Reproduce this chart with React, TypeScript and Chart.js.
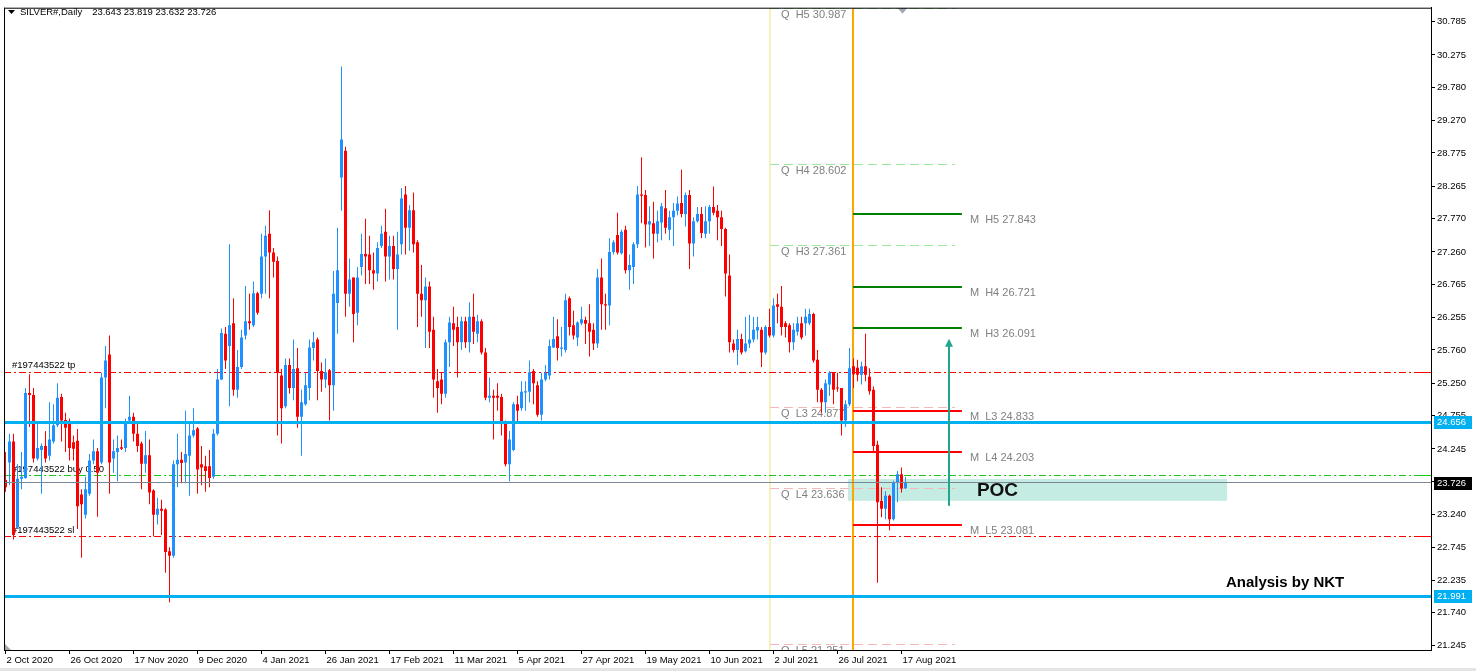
import React, { useEffect, useRef } from 'react';
import { Chart, registerables } from 'chart.js';

Chart.register(...registerables);
Chart.defaults.font.family = '"Liberation Sans", Arial, sans-serif';

// ---------------- data ----------------
const symbolTitle = 'SILVER#,Daily';
const lastBarOHLC = ['23.643', '23.819', '23.632', '23.726'];

const xTickBars = [0, 16, 32, 48, 64, 80, 96, 112, 128, 144, 160, 176, 192, 208, 224];
const xTickLabels = ['2 Oct 2020', '26 Oct 2020', '17 Nov 2020', '9 Dec 2020', '4 Jan 2021', '26 Jan 2021', '17 Feb 2021', '11 Mar 2021', '5 Apr 2021', '27 Apr 2021', '19 May 2021', '10 Jun 2021', '2 Jul 2021', '26 Jul 2021', '17 Aug 2021'];
const yTickLabels = ['30.785', '30.275', '29.780', '29.270', '28.775', '28.265', '27.770', '27.260', '26.765', '26.255', '25.760', '25.250', '24.755', '24.245', '23.750', '23.240', '22.745', '22.235', '21.740', '21.245'];

const opens = [
  23.77, 24.04, 24.36, 23.05, 23.79, 23.80, 25.10, 25.07, 24.10, 24.23,
  24.29, 24.14, 24.36, 24.61, 25.04, 24.69, 24.64, 24.35, 24.37, 23.55,
  23.24, 23.56, 24.07, 24.21, 24.04, 25.34, 25.69, 24.10, 24.20, 24.27,
  24.26, 24.68, 24.74, 24.48, 24.33, 24.02, 24.15, 23.61, 23.24, 23.33,
  23.32, 22.68, 22.61, 24.01, 24.08, 24.04, 24.14, 24.45, 24.56, 24.01,
  23.98, 23.98, 23.82, 24.48, 25.31, 26.01, 25.82, 26.17, 25.15, 25.50,
  25.98, 26.20, 26.14, 26.63, 26.62, 27.19, 27.54, 27.25, 27.12, 25.37,
  24.90, 25.53, 25.18, 25.48, 24.74, 24.93, 25.18, 25.79, 25.92, 25.44,
  25.31, 25.45, 25.22, 26.48, 28.40, 28.81, 26.62, 26.87, 26.33, 27.03,
  27.23, 27.22, 26.98, 26.93, 27.35, 27.57, 27.19, 27.35, 27.00, 27.38,
  28.14, 27.63, 27.90, 27.41, 26.62, 26.52, 26.73, 26.07, 25.28, 25.31,
  25.09, 25.88, 26.17, 26.11, 25.88, 26.20, 25.88, 26.27, 26.01, 26.20,
  25.72, 25.03, 25.06, 25.06, 25.04, 24.66, 24.01, 24.23, 24.93, 24.87,
  25.11, 25.12, 25.44, 25.22, 24.77, 25.31, 25.37, 25.80, 25.97, 25.78,
  25.76, 26.55, 26.14, 25.95, 26.17, 26.22, 26.17, 26.07, 25.86, 26.87,
  26.46, 26.44, 27.26, 27.52, 27.24, 27.60, 26.98, 27.03, 27.38, 28.14,
  28.13, 27.68, 27.70, 27.54, 27.71, 27.93, 27.60, 27.79, 27.89, 28.01,
  27.84, 28.13, 27.39, 27.73, 27.84, 27.54, 27.73, 27.95, 27.89, 27.79,
  27.61, 26.90, 25.86, 25.76, 25.93, 25.74, 25.86, 25.92, 26.06, 26.07,
  25.72, 26.11, 25.98, 26.46, 26.42, 26.17, 26.14, 25.88, 26.04, 26.17,
  26.17, 26.17, 26.31, 25.61, 25.15, 24.96, 25.23, 25.41, 25.18, 25.18,
  24.68, 24.93, 25.51, 25.49, 25.38, 25.51, 25.35, 25.15, 24.31, 23.45,
  23.33, 23.53, 23.17, 23.73, 23.86, 23.643,
];
const highs = [
  24.20, 24.48, 24.48, 24.01, 24.20, 25.18, 25.39, 25.18, 24.64, 24.33,
  24.52, 24.96, 24.93, 25.25, 25.09, 24.80, 24.71, 24.45, 24.55, 23.63,
  23.82, 24.17, 24.39, 24.26, 25.41, 25.82, 25.98, 24.39, 24.45, 24.39,
  24.71, 25.06, 24.80, 24.64, 24.36, 24.52, 24.39, 23.63, 23.50, 23.47,
  23.34, 22.74, 24.07, 24.48, 24.20, 24.83, 24.64, 24.87, 24.58, 24.29,
  24.14, 24.23, 24.55, 25.47, 26.09, 26.11, 27.38, 26.55, 25.76, 26.07,
  26.74, 26.62, 26.81, 26.65, 27.54, 27.66, 27.90, 27.32, 27.19, 25.47,
  25.63, 25.63, 25.92, 25.79, 25.15, 25.41, 25.92, 26.04, 25.95, 25.57,
  25.63, 25.47, 26.97, 27.63, 30.10, 28.87, 27.16, 26.87, 27.03, 27.54,
  27.77, 27.51, 27.25, 27.41, 27.66, 27.92, 27.51, 27.51, 27.57, 28.24,
  28.27, 27.98, 28.17, 27.44, 27.06, 26.87, 26.81, 26.27, 25.47, 25.41,
  25.92, 26.27, 26.42, 26.27, 26.27, 26.27, 26.49, 26.62, 26.30, 26.23,
  25.79, 25.34, 25.15, 25.25, 25.09, 24.68, 24.52, 24.96, 25.06, 25.28,
  25.28, 25.60, 25.47, 25.28, 25.41, 25.53, 25.92, 26.27, 26.23, 26.11,
  26.62, 26.58, 26.36, 26.20, 26.42, 26.27, 26.46, 26.17, 27.00, 27.16,
  26.62, 27.47, 27.44, 27.86, 27.60, 27.66, 27.22, 27.41, 28.27, 28.71,
  28.21, 27.96, 28.03, 27.89, 28.01, 28.21, 27.89, 28.01, 28.11, 28.52,
  28.17, 28.21, 27.79, 27.95, 27.95, 27.96, 27.98, 28.26, 27.98, 27.89,
  27.63, 27.22, 25.92, 26.07, 26.01, 26.27, 26.30, 26.27, 26.27, 26.11,
  26.14, 26.39, 26.55, 26.62, 26.74, 26.20, 26.17, 26.17, 26.27, 26.27,
  26.39, 26.39, 26.33, 25.76, 25.18, 25.31, 25.44, 25.42, 25.41, 25.18,
  24.99, 25.79, 25.63, 25.61, 25.58, 26.01, 25.48, 25.20, 24.37, 23.66,
  23.60, 23.55, 23.76, 23.91, 23.96, 23.819,
];
const lows = [
  23.59, 23.69, 22.86, 23.02, 23.63, 23.79, 24.58, 24.04, 24.07, 23.56,
  24.04, 24.07, 24.33, 24.58, 24.36, 24.20, 24.07, 24.07, 23.02, 22.58,
  23.18, 23.53, 24.01, 23.21, 24.01, 24.87, 23.56, 23.88, 23.75, 24.23,
  24.20, 24.64, 24.36, 24.20, 23.63, 23.88, 23.40, 22.91, 23.09, 22.93,
  22.35, 21.90, 22.58, 23.66, 23.72, 23.72, 23.53, 24.42, 23.56, 23.69,
  23.59, 23.66, 23.79, 24.45, 25.30, 25.47, 24.90, 25.06, 25.03, 25.47,
  25.92, 26.07, 26.11, 26.30, 26.55, 26.62, 26.55, 26.87, 24.45, 24.33,
  24.87, 25.09, 24.99, 24.57, 24.14, 24.91, 24.99, 25.60, 24.99, 25.12,
  25.18, 24.68, 24.83, 26.01, 27.89, 26.27, 26.42, 25.88, 26.14, 26.90,
  26.77, 26.77, 26.68, 26.81, 27.32, 26.81, 26.84, 26.84, 26.07, 27.22,
  27.22, 27.28, 27.25, 26.11, 26.27, 25.79, 25.79, 25.03, 24.80, 24.93,
  25.03, 25.50, 25.82, 25.34, 25.76, 25.79, 25.72, 25.85, 25.88, 25.69,
  24.99, 24.96, 24.39, 24.83, 24.45, 23.98, 23.75, 24.21, 24.64, 24.83,
  24.83, 24.96, 24.93, 24.74, 24.68, 25.28, 25.31, 25.79, 25.60, 25.66,
  25.72, 25.98, 25.92, 25.82, 26.14, 25.85, 25.66, 25.76, 25.79, 26.07,
  26.07, 26.14, 27.22, 27.22, 27.22, 26.93, 26.68, 26.77, 27.32, 27.70,
  27.33, 27.35, 27.16, 27.41, 27.44, 27.54, 27.44, 27.35, 27.82, 27.79,
  27.65, 27.00, 27.19, 27.71, 27.47, 27.47, 27.54, 27.82, 27.44, 27.35,
  26.58, 25.72, 25.72, 25.53, 25.69, 25.72, 25.79, 25.88, 25.92, 25.50,
  25.69, 25.95, 25.95, 26.17, 25.98, 25.95, 25.72, 25.76, 25.98, 25.92,
  25.98, 26.14, 25.57, 24.96, 24.80, 24.80, 25.06, 24.93, 25.12, 24.45,
  24.58, 24.90, 25.18, 25.28, 25.23, 25.28, 25.08, 24.19, 22.20, 23.20,
  23.17, 23.00, 23.15, 23.43, 23.58, 23.632,
];
const closes = [
  23.66, 24.36, 22.93, 23.79, 23.82, 25.10, 25.07, 24.10, 24.26, 24.29,
  24.10, 24.39, 24.61, 25.03, 24.68, 24.57, 24.26, 24.25, 23.37, 23.40,
  23.63, 24.07, 24.21, 23.88, 25.34, 25.60, 24.04, 24.21, 24.26, 24.25,
  24.64, 24.74, 24.48, 24.29, 24.02, 24.15, 23.58, 23.24, 23.33, 23.30,
  22.67, 22.61, 24.01, 24.08, 24.03, 24.17, 24.45, 24.53, 23.93, 23.96,
  23.91, 23.80, 24.48, 25.31, 26.02, 25.60, 26.14, 25.15, 25.50, 25.95,
  26.20, 26.17, 26.63, 26.33, 27.19, 27.51, 27.25, 27.11, 25.41, 24.87,
  25.53, 25.18, 25.47, 24.74, 24.96, 25.22, 25.80, 25.88, 25.44, 25.31,
  25.42, 25.22, 26.62, 26.98, 28.98, 26.62, 26.84, 26.31, 26.87, 27.23,
  27.19, 26.98, 26.93, 27.32, 27.54, 27.19, 27.35, 27.00, 27.22, 28.08,
  27.63, 27.90, 27.38, 26.62, 26.52, 26.73, 26.04, 25.31, 25.18, 25.09,
  25.88, 26.18, 26.07, 25.88, 26.20, 25.88, 26.27, 26.04, 26.20, 25.72,
  25.03, 25.06, 25.03, 25.03, 24.64, 24.01, 24.39, 24.93, 24.83, 25.12,
  25.13, 25.42, 25.25, 24.77, 25.31, 25.41, 25.82, 25.93, 25.79, 25.80,
  26.52, 26.11, 25.98, 26.18, 26.23, 26.16, 26.04, 25.86, 26.87, 26.46,
  26.44, 27.26, 27.41, 27.25, 27.57, 26.98, 27.06, 27.38, 28.14, 28.12,
  27.68, 27.73, 27.54, 27.73, 27.96, 27.63, 27.79, 27.89, 28.00, 27.84,
  28.13, 27.39, 27.73, 27.84, 27.55, 27.73, 27.95, 27.86, 27.79, 27.61,
  26.93, 25.88, 25.76, 25.93, 25.72, 25.86, 25.92, 26.07, 26.11, 25.72,
  26.11, 25.98, 26.44, 26.42, 26.11, 26.11, 25.88, 26.07, 26.17, 25.95,
  26.27, 26.31, 25.60, 25.15, 24.96, 25.25, 25.41, 25.15, 25.17, 24.68,
  24.93, 25.48, 25.39, 25.38, 25.51, 25.38, 25.13, 24.29, 23.43, 23.33,
  23.53, 23.17, 23.73, 23.86, 23.64, 23.726,
];

const supportLines = [24.656, 21.991];
const bidPrice = 23.726;
const tradeTicket = '#197443522';
const tradeTags = ['tp', 'buy 0.50', 'sl'];
const tradePrices = [25.42, 23.84, 22.9];
const quarterlyNames = ['H5', 'H4', 'H3', 'L3', 'L4', 'L5'];
const quarterlyValues = [30.987, 28.602, 27.361, 24.877, 23.636, 21.251];
const monthlyNames = ['H5', 'H4', 'H3', 'L3', 'L4', 'L5'];
const monthlyValues = [27.843, 26.721, 26.091, 24.833, 24.203, 23.081];
const quarterBars = [191, 237.4];
const monthBars = [211.8, 239.1];
const pocBars = [210.6, 305.4];
const pocPrices = [23.452, 23.786];
const arrowBar = 235.9;
const arrowPrices = [23.375, 25.931];
const creditText = 'Analysis by NKT';
const creditBar = 305.1;
const creditPrice = 22.204;

// ---------------- drawing helpers ----------------
function solidH(ctx: any, x1: number, x2: number, y: number, color: string, w: number) {
  ctx.fillStyle = color;
  ctx.fillRect(x1, Math.round(y - w / 2), x2 - x1, w);
}
function patternH(ctx: any, x1: number, x2: number, y: number, color: string, pattern: number[]) {
  ctx.fillStyle = color;
  const yy = Math.floor(y);
  let x = x1;
  let k = 0;
  while (x < x2) {
    const len = pattern[k % pattern.length];
    if (k % 2 === 0) ctx.fillRect(x, yy, Math.min(len, x2 - x), 1);
    x += len;
    k += 1;
  }
}

const mt4Plugin = {
  id: 'mt4Overlay',
  beforeDraw(chart: any) {
    const { ctx, width, height } = chart;
    ctx.save();
    ctx.fillStyle = '#FFFFFF';
    ctx.fillRect(0, 0, width, height);
    ctx.fillStyle = '#E4E4E4';
    ctx.fillRect(0, height - 3, width, 3);
    ctx.restore();
  },
  beforeDatasetsDraw(chart: any) {
    const { ctx, chartArea: a, scales } = chart;
    const xs = scales.x;
    const ys = scales.y;
    ctx.save();
    ctx.beginPath();
    ctx.rect(a.left, a.top, a.right - a.left, a.bottom - a.top);
    ctx.clip();

    // POC zone
    const zx1 = xs.getPixelForValue(pocBars[0]);
    const zx2 = xs.getPixelForValue(pocBars[1]);
    const zy1 = ys.getPixelForValue(pocPrices[1]);
    const zy2 = ys.getPixelForValue(pocPrices[0]);
    ctx.fillStyle = '#C4ECE2';
    ctx.fillRect(zx1, zy1, zx2 - zx1, zy2 - zy1);

    // period separators
    const qx = Math.round(xs.getPixelForValue(quarterBars[0]));
    ctx.fillStyle = '#F6F2BE';
    ctx.fillRect(qx - 1, a.top, 2, a.bottom - a.top);
    const mx = Math.round(xs.getPixelForValue(monthBars[0]));
    ctx.fillStyle = '#FFA500';
    ctx.fillRect(mx - 1, a.top, 2, a.bottom - a.top);

    ctx.textBaseline = 'middle';
    ctx.textAlign = 'left';

    // quarterly pivots
    const qx2 = xs.getPixelForValue(quarterBars[1]);
    ctx.font = '11px "Liberation Sans", Arial, sans-serif';
    quarterlyValues.forEach((v, k) => {
      const yy = ys.getPixelForValue(v);
      const high = quarterlyNames[k][0] === 'H';
      patternH(ctx, qx, qx2, yy, high ? '#9DE89D' : '#F5B8B8', [9, 5]);
      ctx.fillStyle = '#808080';
      ctx.fillText(`Q  ${quarterlyNames[k]} ${v.toFixed(3)}`, qx + 11, yy + 6.5);
    });

    // monthly pivots
    const mx2 = xs.getPixelForValue(monthBars[1]);
    monthlyValues.forEach((v, k) => {
      const yy = ys.getPixelForValue(v);
      const high = monthlyNames[k][0] === 'H';
      solidH(ctx, mx, mx2, yy, high ? '#008000' : '#FF0000', 2);
      ctx.fillStyle = '#808080';
      ctx.fillText(`M  ${monthlyNames[k]} ${v.toFixed(3)}`, mx2 + 8, yy + 6);
    });

    // trade levels
    ctx.font = '9.5px "Liberation Sans", Arial, sans-serif';
    tradePrices.forEach((p, k) => {
      const yy = ys.getPixelForValue(p);
      const col = tradeTags[k] === 'buy 0.50' ? '#18C818' : '#FF0000';
      patternH(ctx, a.left, a.right, yy, col, [7, 3, 2, 3]);
      ctx.fillStyle = '#000000';
      ctx.fillText(`${tradeTicket} ${tradeTags[k]}`, a.left + 8, yy - 6.5);
    });
    ctx.restore();
  },
  afterDatasetsDraw(chart: any) {
    const { ctx, chartArea: a, scales } = chart;
    const xs = scales.x;
    const ys = scales.y;
    ctx.save();
    ctx.beginPath();
    ctx.rect(a.left, a.top, a.right - a.left, a.bottom - a.top);
    ctx.clip();

    // support lines
    supportLines.forEach((p) => solidH(ctx, a.left, a.right, ys.getPixelForValue(p), '#00B0F0', 3));
    // bid line
    solidH(ctx, a.left, a.right, ys.getPixelForValue(bidPrice), '#7A8896', 1);

    // trade markers near axis
    tradePrices.forEach((p, k) => {
      const col = tradeTags[k] === 'buy 0.50' ? '#18C818' : '#FF0000';
      solidH(ctx, a.right - 10, a.right - 2, ys.getPixelForValue(p), col, 1);
    });

    // arrow
    const ax = Math.round(xs.getPixelForValue(arrowBar));
    const ay1 = ys.getPixelForValue(arrowPrices[0]);
    const ay2 = ys.getPixelForValue(arrowPrices[1]);
    ctx.fillStyle = '#22A58C';
    ctx.fillRect(ax - 1, ay2 + 5, 2, ay1 - ay2 - 5);
    ctx.beginPath();
    ctx.moveTo(ax, ay2);
    ctx.lineTo(ax - 4, ay2 + 8);
    ctx.lineTo(ax + 4, ay2 + 8);
    ctx.closePath();
    ctx.fill();

    ctx.textBaseline = 'middle';
    ctx.textAlign = 'left';
    // POC label
    ctx.fillStyle = '#111111';
    ctx.font = 'bold 19px "Liberation Sans", Arial, sans-serif';
    ctx.fillText('POC', xs.getPixelForValue(pocBars[0]) + 129, (ys.getPixelForValue(pocPrices[0]) + ys.getPixelForValue(pocPrices[1])) / 2 + 1);

    // credit
    ctx.fillStyle = '#000000';
    ctx.font = 'bold 15px "Liberation Sans", Arial, sans-serif';
    ctx.fillText(creditText, xs.getPixelForValue(creditBar), ys.getPixelForValue(creditPrice));

    // header
    ctx.fillStyle = '#000000';
    ctx.beginPath();
    ctx.moveTo(a.left + 4, 10);
    ctx.lineTo(a.left + 11, 10);
    ctx.lineTo(a.left + 7.5, 14);
    ctx.closePath();
    ctx.fill();
    ctx.font = '9.5px "Liberation Sans", Arial, sans-serif';
    ctx.fillText(symbolTitle, a.left + 16, 12.5);
    const tw = ctx.measureText(symbolTitle).width;
    ctx.fillText(lastBarOHLC.join(' '), a.left + 16 + tw + 10, 12.5);

    // chart shift marker
    const sx = xs.getPixelForValue(closes.length - 1) - 3;
    ctx.fillStyle = '#A0A8B0';
    ctx.beginPath();
    ctx.moveTo(sx - 5, a.top);
    ctx.lineTo(sx + 5, a.top);
    ctx.lineTo(sx, a.top + 6);
    ctx.closePath();
    ctx.fill();
    // corner marker
    ctx.beginPath();
    ctx.moveTo(a.left, a.bottom - 7);
    ctx.lineTo(a.left, a.bottom);
    ctx.lineTo(a.left + 7, a.bottom);
    ctx.closePath();
    ctx.fill();
    ctx.restore();
  },
  afterDraw(chart: any) {
    const { ctx, chartArea: a, scales } = chart;
    const ys = scales.y;
    ctx.save();
    // frame
    ctx.fillStyle = '#000000';
    ctx.fillRect(a.left, a.top, 1, a.bottom - a.top);
    ctx.fillRect(a.left, a.top, a.right - a.left, 1);
    // axis highlight labels
    ctx.font = '9.5px "Liberation Sans", Arial, sans-serif';
    ctx.textBaseline = 'middle';
    ctx.textAlign = 'left';
    const boxes: [number, string][] = [
      [supportLines[0], '#00B0F0'],
      [bidPrice, '#000000'],
      [supportLines[1], '#00B0F0'],
    ];
    boxes.forEach(([p, col]) => {
      const yy = Math.round(ys.getPixelForValue(p));
      ctx.fillStyle = col;
      ctx.fillRect(a.right + 3, yy - 6, 38, 13);
      ctx.fillStyle = '#FFFFFF';
      ctx.fillText(p.toFixed(3), a.right + 6, yy + 0.5);
    });
    ctx.restore();
  },
};

export default function App() {
  const ref = useRef<HTMLCanvasElement>(null);
  useEffect(() => {
    const canvas = ref.current;
    if (!canvas) return;
    const up = '#1E90FF';
    const down = '#FF0000';
    const colors = closes.map((c, i) => (c >= opens[i] ? up : down));
    const chart = new Chart(canvas, {
      type: 'bar',
      data: {
        datasets: [
          {
            label: 'body',
            data: opens.map((o, i) => ({ x: i, y: [o, closes[i]] })) as any,
            backgroundColor: colors,
            barThickness: 3,
            minBarLength: 1,
            grouped: false,
            order: 0,
            inflateAmount: 0,
            borderWidth: 0,
          } as any,
          {
            label: 'wick',
            data: opens.map((_, i) => ({ x: i, y: [lows[i], highs[i]] })) as any,
            backgroundColor: colors,
            barThickness: 1,
            grouped: false,
            order: 1,
            inflateAmount: 0,
            borderWidth: 0,
          } as any,
        ],
      },
      options: {
        responsive: false,
        animation: false,
        devicePixelRatio: 1,
        layout: { padding: { left: 4, top: 4, right: 0, bottom: 0 } },
        plugins: { legend: { display: false }, tooltip: { enabled: false } },
        scales: {
          x: {
            type: 'linear',
            min: -0.375,
            max: 356.375,
            offset: false,
            bounds: 'data',
            afterBuildTicks: (s: any) => {
              s.ticks = xTickBars.map((v) => ({ value: v }));
            },
            afterFit: (s: any) => {
              s.height = 21;
            },
            grid: { display: true, drawOnChartArea: false, drawTicks: true, tickLength: 4, color: '#000000', offset: false },
            border: { display: true, color: '#000000' },
            ticks: {
              autoSkip: false,
              maxRotation: 0,
              minRotation: 0,
              align: 'start',
              labelOffset: 1,
              padding: 1,
              color: '#000000',
              font: { size: 9.5 },
              callback: (_v: any, i: number) => xTickLabels[i],
            },
          } as any,
          y: {
            type: 'linear',
            position: 'right',
            min: 21.169,
            max: 30.998,
            bounds: 'data',
            afterBuildTicks: (s: any) => {
              s.ticks = yTickLabels.map((t) => ({ value: parseFloat(t) }));
            },
            afterFit: (s: any) => {
              s.width = 45;
            },
            grid: { display: true, drawOnChartArea: false, drawTicks: true, tickLength: 4, color: '#000000' },
            border: { display: true, color: '#000000' },
            ticks: {
              autoSkip: false,
              padding: 2,
              color: '#000000',
              font: { size: 9.5 },
              callback: (_v: any, i: number) => yTickLabels[i],
            },
          } as any,
        },
      } as any,
      plugins: [mt4Plugin as any],
    });
    return () => chart.destroy();
  }, []);
  return (
    <div style={{ position: 'absolute', left: 0, top: 0, width: 1476, height: 671 }}>
      <canvas ref={ref} width={1476} height={671} style={{ display: 'block' }} />
    </div>
  );
}
